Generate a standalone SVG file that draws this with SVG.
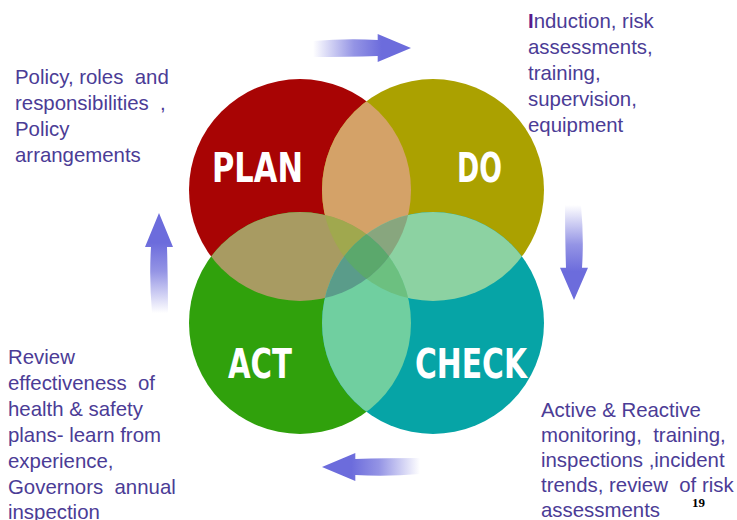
<svg xmlns="http://www.w3.org/2000/svg" xmlns:xlink="http://www.w3.org/1999/xlink" width="737" height="520" viewBox="0 0 737 520">
<style>
.lbl{font-family:'Liberation Sans Narrow','DejaVu Sans Condensed','Liberation Sans',sans-serif;font-weight:bold;font-size:41px;fill:#ffffff}
.txt{font-family:'Liberation Sans',Arial,sans-serif;font-size:20.4px;fill:#4b3c96;white-space:pre}
</style>
<defs>
<clipPath id="cP"><circle cx="300" cy="190" r="111"/></clipPath>
<clipPath id="cD"><circle cx="433" cy="190" r="111"/></clipPath>
<clipPath id="cA"><circle cx="300" cy="323" r="111"/></clipPath>
<clipPath id="cC"><circle cx="433" cy="323" r="111"/></clipPath>
<linearGradient id="ag" gradientUnits="userSpaceOnUse" x1="0" y1="0" x2="70" y2="0">
<stop offset="0" stop-color="#7070dc" stop-opacity="0"/>
<stop offset="0.6" stop-color="#7070dc" stop-opacity="0.75"/>
<stop offset="1" stop-color="#6c6cdc"/>
</linearGradient>
<path id="arrow" d="M0,-7 Q35,-10 66,-8 L66,-14 L100,0 L66,14 L66,8 Q35,9 0,9 Z" fill="url(#ag)"/>
</defs>
<rect width="737" height="520" fill="#ffffff"/>

<g id="node-plan"><circle cx="300" cy="190" r="111" fill="#a80404"/></g>
<g id="node-do"><circle cx="433" cy="190" r="111" fill="#aba100"/></g>
<g id="node-act"><circle cx="300" cy="323" r="111" fill="#30a10c"/></g>
<g id="node-check"><circle cx="433" cy="323" r="111" fill="#06a4a6"/></g>

<g id="overlaps">
<g clip-path="url(#cP)"><circle cx="433" cy="190" r="111" fill="#d4a268"/></g>
<g clip-path="url(#cP)"><circle cx="300" cy="323" r="111" fill="#a89b62"/></g>
<g clip-path="url(#cD)"><circle cx="433" cy="323" r="111" fill="#8cd2a2"/></g>
<g clip-path="url(#cA)"><circle cx="433" cy="323" r="111" fill="#70cfa0"/></g>
<g clip-path="url(#cD)"><g clip-path="url(#cA)"><g clip-path="url(#cP)"><rect x="180" y="70" width="380" height="370" fill="#a0a84e"/></g></g></g>
<g clip-path="url(#cD)"><g clip-path="url(#cA)"><g clip-path="url(#cC)"><rect x="180" y="70" width="380" height="370" fill="#6cc080"/></g></g></g>
<g clip-path="url(#cP)"><g clip-path="url(#cC)"><g clip-path="url(#cD)"><rect x="180" y="70" width="380" height="370" fill="#88a67e"/></g></g></g>
<g clip-path="url(#cP)"><g clip-path="url(#cC)"><g clip-path="url(#cA)"><rect x="180" y="70" width="380" height="370" fill="#5a9c8a"/></g></g></g>
<g clip-path="url(#cP)"><g clip-path="url(#cC)"><g clip-path="url(#cA)"><g clip-path="url(#cD)"><rect x="180" y="70" width="380" height="370" fill="#5ba86c"/></g></g></g></g>
</g>

<g id="labels">
<text class="lbl" x="212" y="182" textLength="91" lengthAdjust="spacingAndGlyphs">PLAN</text>
<text class="lbl" x="457" y="182" textLength="45" lengthAdjust="spacingAndGlyphs">DO</text>
<text class="lbl" x="228" y="378" textLength="64" lengthAdjust="spacingAndGlyphs">ACT</text>
<text class="lbl" x="415" y="378" textLength="112" lengthAdjust="spacingAndGlyphs">CHECK</text>
</g>

<g id="connectors">
<use xlink:href="#arrow" transform="translate(313,48) scale(0.98,1)"/>
<use xlink:href="#arrow" transform="translate(574,205) rotate(90) scale(0.95,1)"/>
<use xlink:href="#arrow" transform="translate(420,467) rotate(180) scale(0.98,1)"/>
<use xlink:href="#arrow" transform="translate(159,313) rotate(-90) scale(1,1)"/>
</g>

<g id="text-plan" xml:space="preserve">
<text class="txt" x="15" y="84">Policy, roles  and</text>
<text class="txt" x="15" y="110">responsibilities  ,</text>
<text class="txt" x="15" y="136">Policy</text>
<text class="txt" x="15" y="162">arrangements</text>
</g>
<g id="text-do" xml:space="preserve">
<text class="txt" x="528" y="28"><tspan fill="#5a1a8c" font-weight="bold">I</tspan>nduction, risk</text>
<text class="txt" x="528" y="54">assessments,</text>
<text class="txt" x="528" y="80">training,</text>
<text class="txt" x="528" y="106">supervision,</text>
<text class="txt" x="528" y="132">equipment</text>
</g>
<g id="text-check" xml:space="preserve">
<text class="txt" x="541" y="417">Active &amp; Reactive</text>
<text class="txt" x="541" y="442">monitoring,  training,</text>
<text class="txt" x="541" y="467">inspections ,incident</text>
<text class="txt" x="541" y="492">trends, review  of risk</text>
<text class="txt" x="541" y="517">assessments</text>
</g>
<g id="text-act" xml:space="preserve">
<text class="txt" x="8" y="364">Review</text>
<text class="txt" x="8" y="390">effectiveness  of</text>
<text class="txt" x="8" y="416">health &amp; safety</text>
<text class="txt" x="8" y="442">plans- learn from</text>
<text class="txt" x="8" y="468">experience,</text>
<text class="txt" x="8" y="494">Governors  annual</text>
<text class="txt" x="8" y="519">inspection</text>
</g>
<text x="692" y="507" font-family="'Liberation Serif',serif" font-weight="bold" font-size="13" fill="#000000">19</text>
</svg>
